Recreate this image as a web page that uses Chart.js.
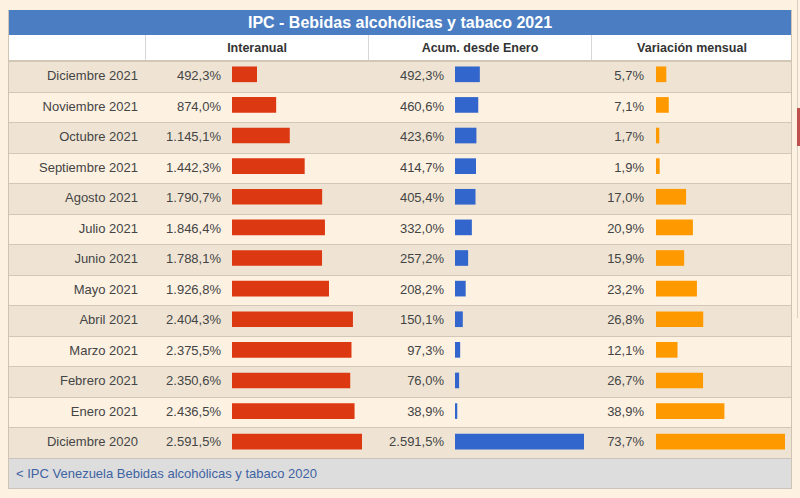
<!DOCTYPE html>
<html>
<head>
<meta charset="utf-8">
<script src="https://cdn.jsdelivr.net/npm/chart.js@4/dist/chart.umd.min.js"></script>
<style>
  body { margin: 0; background: #fdf1e2; font-family: "Liberation Sans", Arial, sans-serif; }
  #wrap { position: absolute; left: 0; top: 0; width: 800px; height: 498px; overflow: hidden; }
  .abs { position: absolute; box-sizing: border-box; }
  #title { left: 8px; top: 10px; width: 784px; height: 25px; background: #4a7dc2; color: #fff;
           font-weight: bold; font-size: 16px; line-height: 25px; text-align: center; }
  .head { top: 35px; height: 26px; background: #fff; color: #333; font-weight: bold; font-size: 12.5px;
          line-height: 26px; text-align: center; border-bottom: 1px solid #d2c6b6; border-left: 1px solid #d6d6d6; }
  .row { left: 8px; width: 784px; border-top: 1px solid #d3c7b7; }
  .cell { color: #444; font-size: 13px; text-align: right; white-space: nowrap; }
  #footer { left: 8px; top: 458px; width: 784px; height: 31px; background: #dddddd; border: 1px solid #c9c3bb;
            color: #3d63a3; font-size: 13px; line-height: 29px; padding-left: 7px; }
  #frame { left: 8px; top: 10px; width: 784px; height: 479px; border-left: 1px solid #cfc4b4; border-right: 1px solid #cfc4b4; }
  canvas { position: absolute; }
</style>
</head>
<body>
<div id="wrap">
  <div class="abs" id="title">IPC - Bebidas alcohólicas y tabaco 2021</div>
  <div class="abs head" style="left:8px;width:137px;border-left:none"></div>
  <div class="abs head" style="left:145px;width:223px">Interanual</div>
  <div class="abs head" style="left:368px;width:223px">Acum. desde Enero</div>
  <div class="abs head" style="left:591px;width:201px">Variación mensual</div>
  <div id="rows"></div>
  <div class="abs" id="footer">&lt; IPC Venezuela Bebidas alcohólicas y tabaco 2020</div>
  <div class="abs" id="frame"></div>
  <div class="abs" style="left:797px;top:0;width:1px;height:318px;background:#d8d0c6"></div>
  <div class="abs" style="left:797px;top:108px;width:3px;height:38px;background:#c0504d"></div>
  <canvas id="c1" width="130" height="398" style="left:232px;top:59px"></canvas>
  <canvas id="c2" width="129" height="398" style="left:455px;top:59px"></canvas>
  <canvas id="c3" width="129" height="398" style="left:656px;top:59px"></canvas>
</div>
<script>
const months = ['Diciembre 2021', 'Noviembre 2021', 'Octubre 2021', 'Septiembre 2021', 'Agosto 2021',
    'Julio 2021', 'Junio 2021', 'Mayo 2021', 'Abril 2021', 'Marzo 2021', 'Febrero 2021', 'Enero 2021',
    'Diciembre 2020'];
const interanual = [492.3, 874.0, 1145.1, 1442.3, 1790.7, 1846.4, 1788.1, 1926.8, 2404.3, 2375.5, 2350.6, 2436.5, 2591.5];
const acumulado = [492.3, 460.6, 423.6, 414.7, 405.4, 332.0, 257.2, 208.2, 150.1, 97.3, 76.0, 38.9, 2591.5];
const mensual = [5.7, 7.1, 1.7, 1.9, 17.0, 20.9, 15.9, 23.2, 26.8, 12.1, 26.7, 38.9, 73.7];

// 2591.5 -> "2.591,5%"
function fmt(v) {
    const parts = v.toFixed(1).split('.');
    const intPart = parts[0].replace(/\B(?=(\d{3})+(?!\d))/g, '.');
    return intPart + ',' + parts[1] + '%';
}

// Build table rows (text only, bars come from Chart.js)
const rowsDiv = document.getElementById('rows');
const rowTop = 61, rowH = 397 / months.length;
months.forEach((m, i) => {
    const top = Math.round(rowTop + i * rowH);
    const h = Math.round(rowTop + (i + 1) * rowH) - top;
    const row = document.createElement('div');
    row.className = 'abs row';
    row.style.top = top + 'px';
    row.style.height = h + 'px';
    row.style.background = i % 2 === 0 ? '#efe4d4' : '#fdf1e2';
    rowsDiv.appendChild(row);

    const cols = [[m, 138], [fmt(interanual[i]), 221], [fmt(acumulado[i]), 444], [fmt(mensual[i]), 644]];
    cols.forEach(([txt, right]) => {
        const c = document.createElement('div');
        c.className = 'abs cell';
        c.textContent = txt;
        c.style.left = (right - 200) + 'px';
        c.style.width = '200px';
        c.style.top = top + 'px';
        c.style.height = h + 'px';
        c.style.lineHeight = (h - 1) + 'px';
        rowsDiv.appendChild(c);
    });
});

function barChart(id, values, color) {
    return new Chart(document.getElementById(id), {
        type: 'bar',
        data: {
            labels: months,
            datasets: [{
                data: values,
                backgroundColor: color,
                borderWidth: 0,
                barThickness: 15,
            }],
        },
        options: {
            indexAxis: 'y',
            responsive: false,
            animation: false,
            layout: { padding: 0 },
            scales: {
                x: { display: false, min: 0, max: Math.max(...values) },
                y: { display: false, offset: true },
            },
            plugins: { legend: { display: false }, tooltip: { enabled: false } },
        },
    });
}

barChart('c1', interanual, '#dc3912');
barChart('c2', acumulado, '#3366cc');
barChart('c3', mensual, '#ff9900');
</script>
</body>
</html>
